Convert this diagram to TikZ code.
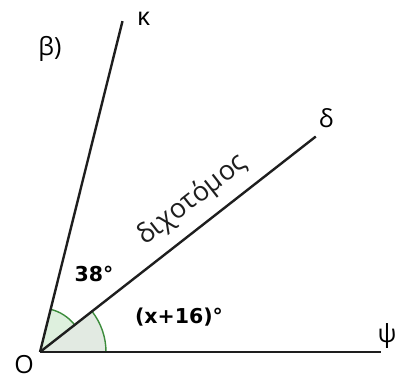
\documentclass[tikz,border=0pt]{standalone}
\usepackage{fontspec}
\setmainfont{Open Sans}
\newfontfamily\degfont{DejaVu Sans}
\usetikzlibrary{positioning}
\definecolor{arcgreen}{RGB}{60,140,60}
\definecolor{lowfill}{RGB}{226,234,226}
\definecolor{upfill}{RGB}{222,240,222}
\definecolor{raygray}{RGB}{30,30,30}

\begin{document}
\begin{tikzpicture}[x=1pt, y=1pt,
  ray/.style={line width=2.4pt, color=raygray},
  lbl/.style={font=\fontsize{25}{28}\selectfont, inner sep=0pt},
  deg/.style={font=\degfont\bfseries\fontsize{20.5}{22}\selectfont, inner sep=0pt},
  sector/.style={draw=arcgreen, line width=1.4pt}
]
\useasboundingbox (0,0) rectangle (397,374);

% ── Points: vertex and ray ends ──────────────────────────────────────────
\coordinate (O) at (40,22);
\coordinate (psi) at (381,22);
\path (O) ++(38:350) coordinate (delta);
\path (O) ++(76:341) coordinate (kappa);

% ── Angle sectors ────────────────────────────────────────────────────────
\fill[lowfill] (O) -- ++(0:66) arc[start angle=0, end angle=38, radius=66] -- cycle;
\fill[upfill]  (O) -- ++(38:44) arc[start angle=38, end angle=76, radius=44] -- cycle;
\draw[sector] (O) ++(0:66) arc[start angle=0, end angle=38, radius=66];
\draw[sector] (O) ++(38:44) arc[start angle=38, end angle=76, radius=44];

% ── Rays ─────────────────────────────────────────────────────────────────
\draw[ray] (O) -- (psi);
\draw[ray] (O) -- (kappa);
\draw[ray] (O) -- (delta)
  node[lbl, font=\fontsize{27}{30}\selectfont, sloped, above=11pt, pos=0.61] (bis) {διχοτόμος};

% ── Labels ───────────────────────────────────────────────────────────────
\node[lbl] (Olbl)  at (24,9)     {O};
\node[lbl] (klbl)  at (143.5,355) {κ};
\node[lbl] (dlbl)  at (326,256)  {δ};
\node[lbl] (plbl)  at (387,38)   {ψ};
\node[lbl] (part)  at (50,325)   {β)};

\node[deg] (a38)  at (94,100)  {38°};
\node[deg] (ax16) at (179,57)  {(x+16)°};

\end{tikzpicture}
\end{document}
